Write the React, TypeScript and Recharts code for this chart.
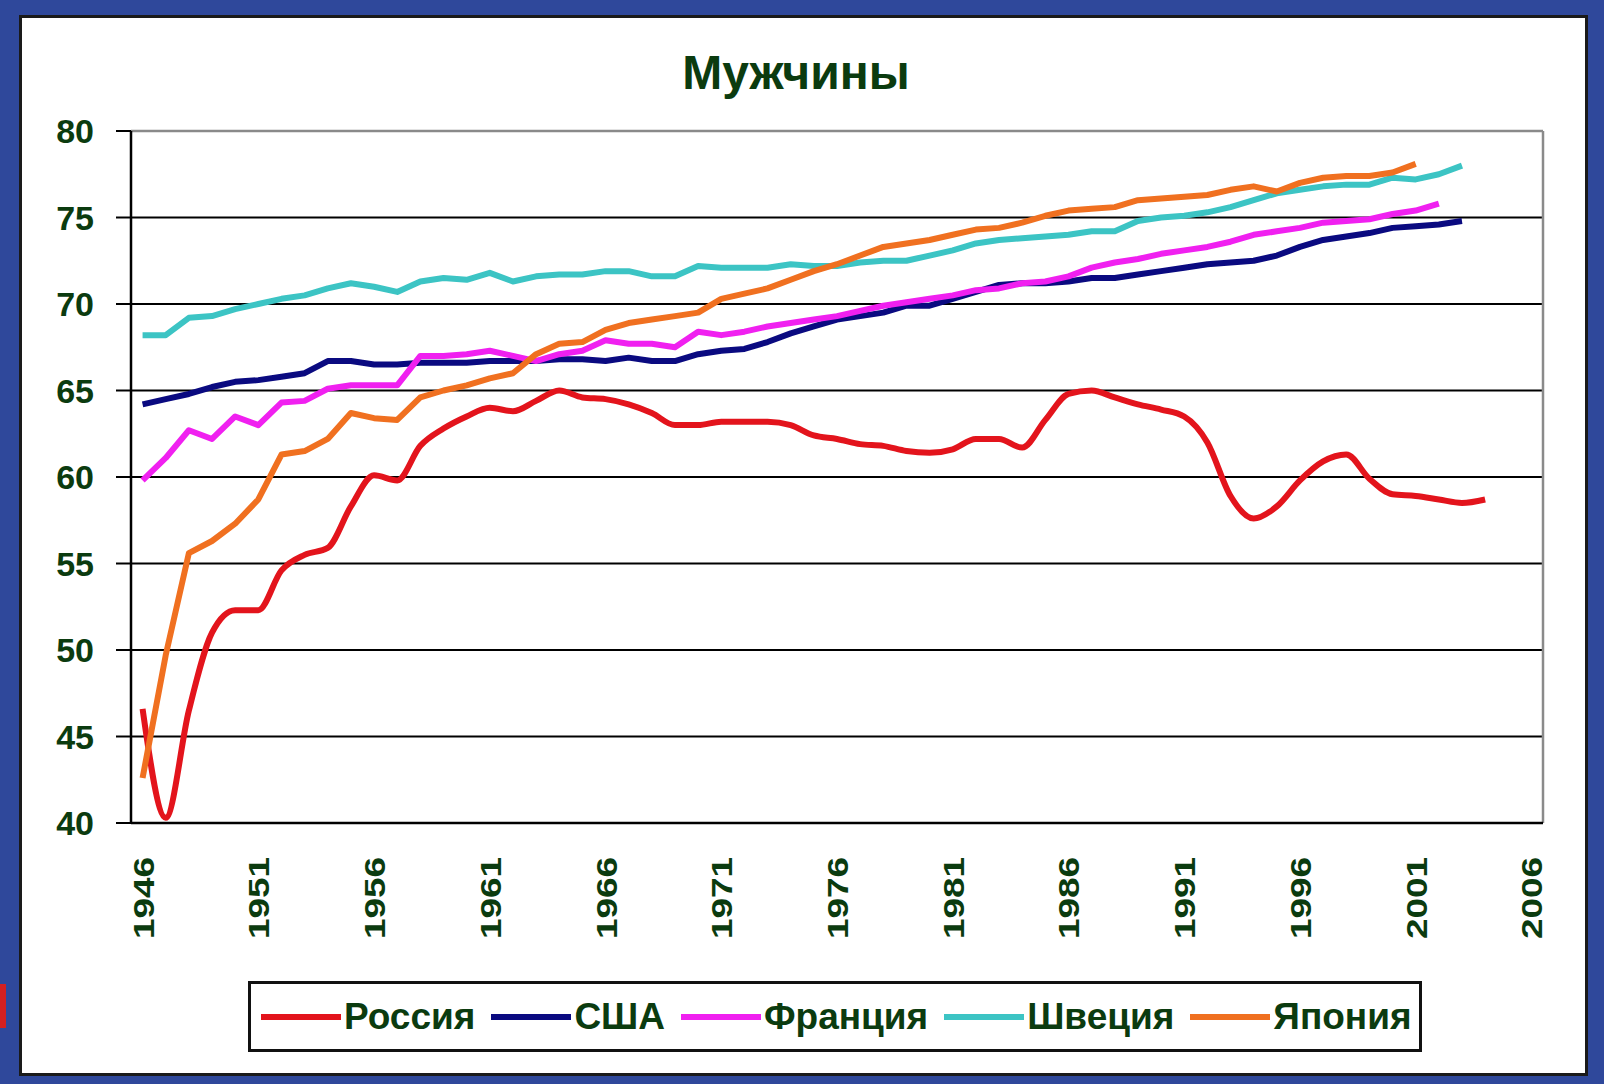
import { LineChart, Line, XAxis, YAxis, CartesianGrid, Legend, ReferenceLine } from 'recharts';

// life expectancy at birth, men
const YEARS = [
    1946, 1947, 1948, 1949, 1950, 1951, 1952, 1953, 1954, 1955,
    1956, 1957, 1958, 1959, 1960, 1961, 1962, 1963, 1964, 1965,
    1966, 1967, 1968, 1969, 1970, 1971, 1972, 1973, 1974, 1975,
    1976, 1977, 1978, 1979, 1980, 1981, 1982, 1983, 1984, 1985,
    1986, 1987, 1988, 1989, 1990, 1991, 1992, 1993, 1994, 1995,
    1996, 1997, 1998, 1999, 2000, 2001, 2002, 2003, 2004,
];

const RUSSIA = [
    46.6, 40.3, 46.5, 51.0, 52.3, 52.3, 54.6, 55.5, 55.9, 58.3,
    60.1, 59.8, 61.8, 62.8, 63.5, 64.0, 63.8, 64.4, 65.0, 64.6,
    64.5, 64.2, 63.7, 63.0, 63.0, 63.2, 63.2, 63.2, 63.0, 62.4,
    62.2, 61.9, 61.8, 61.5, 61.4, 61.6, 62.2, 62.2, 61.7, 63.3,
    64.8, 65.0, 64.6, 64.2, 63.9, 63.5, 62.0, 58.9, 57.6, 58.3,
    59.8, 60.9, 61.3, 59.9, 59.0, 58.9, 58.7, 58.5, 58.7,
];

const USA = [
    64.2, 64.5, 64.8, 65.2, 65.5, 65.6, 65.8, 66.0, 66.7, 66.7,
    66.5, 66.5, 66.6, 66.6, 66.6, 66.7, 66.7, 66.7, 66.8, 66.8,
    66.7, 66.9, 66.7, 66.7, 67.1, 67.3, 67.4, 67.8, 68.3, 68.7,
    69.1, 69.3, 69.5, 69.9, 69.9, 70.3, 70.7, 71.1, 71.2, 71.2,
    71.3, 71.5, 71.5, 71.7, 71.9, 72.1, 72.3, 72.4, 72.5, 72.8,
    73.3, 73.7, 73.9, 74.1, 74.4, 74.5, 74.6, 74.8,
];

const FRANCE = [
    59.8, 61.1, 62.7, 62.2, 63.5, 63.0, 64.3, 64.4, 65.1, 65.3,
    65.3, 65.3, 67.0, 67.0, 67.1, 67.3, 67.0, 66.7, 67.1, 67.3,
    67.9, 67.7, 67.7, 67.5, 68.4, 68.2, 68.4, 68.7, 68.9, 69.1,
    69.3, 69.6, 69.9, 70.1, 70.3, 70.5, 70.8, 70.9, 71.2, 71.3,
    71.6, 72.1, 72.4, 72.6, 72.9, 73.1, 73.3, 73.6, 74.0, 74.2,
    74.4, 74.7, 74.8, 74.9, 75.2, 75.4, 75.8,
];

const SWEDEN = [
    68.2, 68.2, 69.2, 69.3, 69.7, 70.0, 70.3, 70.5, 70.9, 71.2,
    71.0, 70.7, 71.3, 71.5, 71.4, 71.8, 71.3, 71.6, 71.7, 71.7,
    71.9, 71.9, 71.6, 71.6, 72.2, 72.1, 72.1, 72.1, 72.3, 72.2,
    72.2, 72.4, 72.5, 72.5, 72.8, 73.1, 73.5, 73.7, 73.8, 73.9,
    74.0, 74.2, 74.2, 74.8, 75.0, 75.1, 75.3, 75.6, 76.0, 76.4,
    76.6, 76.8, 76.9, 76.9, 77.3, 77.2, 77.5, 78.0,
];

const JAPAN = [
    42.6, 49.7, 55.6, 56.3, 57.3, 58.7, 61.3, 61.5, 62.2, 63.7,
    63.4, 63.3, 64.6, 65.0, 65.3, 65.7, 66.0, 67.1, 67.7, 67.8,
    68.5, 68.9, 69.1, 69.3, 69.5, 70.3, 70.6, 70.9, 71.4, 71.9,
    72.3, 72.8, 73.3, 73.5, 73.7, 74.0, 74.3, 74.4, 74.7, 75.1,
    75.4, 75.5, 75.6, 76.0, 76.1, 76.2, 76.3, 76.6, 76.8, 76.5,
    77.0, 77.3, 77.4, 77.4, 77.6, 78.1,
];

const Y_TICKS = [40, 45, 50, 55, 60, 65, 70, 75, 80];
const X_LABELS = [1946, 1951, 1956, 1961, 1966, 1971, 1976, 1981, 1986, 1991, 1996, 2001, 2006];
// tick marks sit between the yearly categories
const X_MINOR = Array.from({ length: 62 }, (_, i) => 1945.5 + i);

const SERIES = [
    { key: 'russia', name: 'Россия', color: '#e3141c', values: RUSSIA, curve: 'monotone' },
    { key: 'usa', name: 'США', color: '#0a0a80', values: USA, curve: 'linear' },
    { key: 'france', name: 'Франция', color: '#f020f0', values: FRANCE, curve: 'linear' },
    { key: 'sweden', name: 'Швеция', color: '#3cc4c4', values: SWEDEN, curve: 'linear' },
    { key: 'japan', name: 'Япония', color: '#f07020', values: JAPAN, curve: 'linear' },
];

const BLUE = '#2f489b';
const GREEN = '#0b3b0f';
const FONT = "'Liberation Sans', Arial, sans-serif";

const data = YEARS.map((year, i) => {
    const row: { [key: string]: number | undefined } = { year };
    SERIES.forEach((s) => {
        row[s.key] = s.values[i];
    });
    return row;
});

function YTick({ x, y, payload }: any) {
    return (
        <text x={x} y={y} dy={12} textAnchor="end" fill={GREEN} fontFamily={FONT} fontWeight={700} fontSize={34}>
            {payload.value}
        </text>
    );
}

function XTick({ x, y, payload }: any) {
    return (
        <text
            transform={`translate(${x},${y}) rotate(-90) scale(1.23,1)`}
            dy={11}
            textAnchor="end"
            fill={GREEN}
            fontFamily={FONT}
            fontWeight={700}
            fontSize={30}
        >
            {payload.value}
        </text>
    );
}

function LegendBox() {
    return (
        <div
            style={{
                width: '100%',
                height: '100%',
                boxSizing: 'border-box',
                border: '3px solid #111',
                background: '#fff',
                display: 'flex',
                alignItems: 'center',
                paddingLeft: 10,
            }}
        >
            {SERIES.map((s, i) => (
                <div key={s.key} style={{ display: 'flex', alignItems: 'center', marginRight: i < SERIES.length - 1 ? 16 : 0 }}>
                    <span style={{ display: 'inline-block', width: 80, height: 6, background: s.color }} />
                    <span
                        style={{
                            marginLeft: 3,
                            fontFamily: FONT,
                            fontWeight: 700,
                            fontSize: 37,
                            color: GREEN,
                            lineHeight: 1,
                        }}
                    >
                        {s.name}
                    </span>
                </div>
            ))}
        </div>
    );
}

export default function App() {
    return (
        <div style={{ position: 'absolute', left: 0, top: 0, width: 1604, height: 1084, background: BLUE, overflow: 'hidden' }}>
            <div style={{ position: 'absolute', left: 0, top: 984, width: 6, height: 44, background: '#d42020' }} />
            <div
                style={{
                    position: 'absolute',
                    left: 19,
                    top: 15,
                    width: 1569,
                    height: 1061,
                    boxSizing: 'border-box',
                    background: '#fff',
                    border: '3px solid #1a1a1a',
                }}
            />
            <div
                style={{
                    position: 'absolute',
                    left: 0,
                    top: 49,
                    width: 1592,
                    textAlign: 'center',
                    fontFamily: FONT,
                    fontWeight: 700,
                    fontSize: 48,
                    lineHeight: '48px',
                    color: GREEN,
                }}
            >
                Мужчины
            </div>
            <div style={{ position: 'absolute', left: 0, top: 0 }}>
                <LineChart width={1604} height={1084} data={data} margin={{ top: 131, right: 61, left: 20, bottom: 127 }}>
                    <CartesianGrid xAxisId="a_minor" vertical={false} stroke="#000" strokeWidth={2} />
                    <XAxis
                        xAxisId="a_minor"
                        dataKey="year"
                        type="number"
                        domain={[1945.5, 2006.5]}
                        ticks={X_MINOR}
                        interval={0}
                        tick={false}
                        tickSize={12}
                        height={14}
                        axisLine={{ stroke: '#000', strokeWidth: 2.5 }}
                        tickLine={{ stroke: '#000', strokeWidth: 2 }}
                    />
                    <XAxis
                        xAxisId="b_labels"
                        dataKey="year"
                        type="number"
                        domain={[1945.5, 2006.5]}
                        ticks={X_LABELS}
                        interval={0}
                        tick={<XTick />}
                        tickSize={0}
                        tickMargin={20}
                        height={120}
                        axisLine={false}
                        tickLine={false}
                    />
                    <YAxis
                        domain={[40, 80]}
                        ticks={Y_TICKS}
                        interval={0}
                        width={111}
                        tickSize={15}
                        tickMargin={22}
                        tick={<YTick />}
                        axisLine={{ stroke: '#000', strokeWidth: 2.5 }}
                        tickLine={{ stroke: '#000', strokeWidth: 2 }}
                    />
                    <ReferenceLine xAxisId="a_minor" y={80} stroke="#8a8a8a" strokeWidth={2.5} />
                    <ReferenceLine xAxisId="a_minor" x={2006.5} stroke="#8a8a8a" strokeWidth={2.5} />
                    {SERIES.map((s) => (
                        <Line
                            key={s.key}
                            xAxisId="a_minor"
                            type={s.curve as any}
                            dataKey={s.key}
                            name={s.name}
                            stroke={s.color}
                            strokeWidth={6}
                            strokeLinejoin="round"
                            dot={false}
                            isAnimationActive={false}
                        />
                    ))}
                    <Legend
                        layout="vertical"
                        align="center"
                        verticalAlign="middle"
                        wrapperStyle={{ left: 248, top: 981, width: 1174, height: 71, bottom: 'auto', right: 'auto' }}
                        content={<LegendBox />}
                    />
                </LineChart>
            </div>
        </div>
    );
}
